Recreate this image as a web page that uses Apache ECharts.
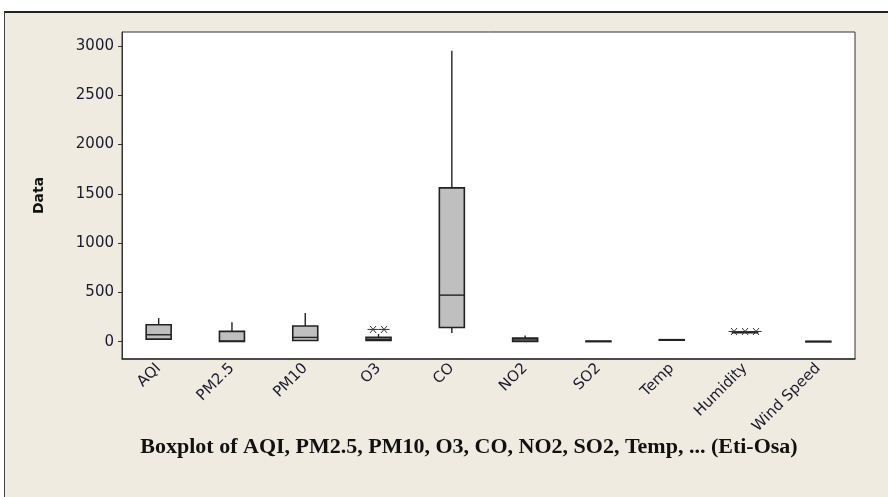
<!DOCTYPE html>
<html lang="en">

<head>
    <meta charset="UTF-8">
    <style>
        html, body {
            margin: 0;
            padding: 0;
            background: #fff;
        }
        #frame {
            position: absolute;
            left: 4px;
            top: 11px;
            width: 884px;
            height: 486px;
            background: #f0ebe1;
            border-top: 2px solid #222;
            border-left: 1px solid #444;
        }
        #main {
            position: absolute;
            left: 0;
            top: 0;
            width: 888px;
            height: 497px;
        }
    </style>
    <title>Boxplot</title>
</head>

<body>
    <div id="frame"></div>
    <div id="main"></div>

    <script src="https://cdn.jsdelivr.net/npm/echarts@6.0.0/dist/echarts.min.js"></script>
    <script>
        var categories = ['AQI', 'PM2.5', 'PM10', 'O3', 'CO', 'NO2', 'SO2', 'Temp', 'Humidity', 'Wind Speed'];
        // [lower whisker, Q1, median, Q3, upper whisker]
        var aqi = [27, 27, 71, 172, 240];
        var pm25 = [3, 3, 8, 105, 199];
        var pm10 = [13, 13, 44, 159, 291];
        var o3 = [10, 13, 25, 44, 78];
        var co = [88, 145, 473, 1561, 2952];
        var no2 = [0, 3, 18, 37, 64];
        var so2 = [2, 4, 5, 6, 8];
        var temp = [17, 18, 20, 21, 23];
        var humidity = [88, 92, 95, 98, 100];
        var windSpeed = [1, 2, 3, 4, 5];
        // outliers (asterisks): [category index, value]
        var outliers = [[3, 125], [3, 125], [8, 104], [8, 104], [8, 104]];
        var yTicks = [0, 500, 1000, 1500, 2000, 2500, 3000];

        var boxes = [aqi, pm25, pm10, o3, co, no2, so2, temp, humidity, windSpeed];
        var boxData = boxes.map(function (d, i) {
            return [i].concat(d);
        });

        // identical outliers are put side by side, like minitab does
        var outlierData = outliers.map(function (o, i) {
            var same = outliers.filter(function (p) { return p[0] === o[0] && p[1] === o[1]; });
            var k = outliers.slice(0, i).filter(function (p) { return p[0] === o[0] && p[1] === o[1]; }).length;
            return [o[0], o[1], k - (same.length - 1) / 2];
        });

        var boxWidth = 25;
        var ink = '#222';

        function renderBox(params, api) {
            var x = api.value(0);
            var lo = api.coord([x, api.value(1)]);
            var q1 = api.coord([x, api.value(2)]);
            var med = api.coord([x, api.value(3)]);
            var q3 = api.coord([x, api.value(4)]);
            var hi = api.coord([x, api.value(5)]);
            var half = boxWidth / 2;
            var ls = { stroke: ink, lineWidth: 1.4 };
            return {
                type: 'group',
                children: [
                    { type: 'line', shape: { x1: hi[0], y1: hi[1], x2: q3[0], y2: q3[1] }, style: ls },
                    { type: 'line', shape: { x1: q1[0], y1: q1[1], x2: lo[0], y2: lo[1] }, style: ls },
                    {
                        type: 'rect',
                        shape: { x: q3[0] - half, y: q3[1], width: boxWidth, height: Math.max(q1[1] - q3[1], 0.5) },
                        style: { fill: '#bfbfbf', stroke: ink, lineWidth: 1.6 }
                    },
                    { type: 'line', shape: { x1: med[0] - half, y1: med[1], x2: med[0] + half, y2: med[1] }, style: ls }
                ]
            };
        }

        function renderStar(params, api) {
            var p = api.coord([api.value(0), api.value(1)]);
            var cx = p[0] + api.value(2) * 11;
            var cy = p[1];
            var ls = { stroke: '#333', lineWidth: 1 };
            return {
                type: 'group',
                children: [
                    { type: 'line', shape: { x1: cx - 5.5, y1: cy, x2: cx + 5.5, y2: cy }, style: ls },
                    { type: 'line', shape: { x1: cx - 3, y1: cy - 3.5, x2: cx + 3, y2: cy + 3.5 }, style: ls },
                    { type: 'line', shape: { x1: cx - 3, y1: cy + 3.5, x2: cx + 3, y2: cy - 3.5 }, style: ls }
                ]
            };
        }

        var myChart = echarts.init(document.getElementById('main'));

        var option = {
            backgroundColor: 'transparent',
            animation: false,
            title: {
                text: 'Boxplot of AQI, PM2.5, PM10, O3, CO, NO2, SO2, Temp, ... (Eti-Osa)',
                left: 464,
                top: 431,
                textAlign: 'center',
                textStyle: {
                    fontFamily: 'Liberation Serif',
                    fontWeight: 'bold',
                    fontSize: 22,
                    color: '#111'
                }
            },
            grid: {
                left: 122,
                right: 33,
                top: 32,
                bottom: 138,
                show: true,
                backgroundColor: '#fff',
                borderColor: '#333',
                borderWidth: 1
            },
            xAxis: {
                type: 'category',
                data: categories,
                boundaryGap: true,
                axisLine: { onZero: false, lineStyle: { color: '#333', width: 1.5 } },
                axisTick: { alignWithLabel: true, length: 5, lineStyle: { color: '#333', width: 1.5 } },
                axisLabel: {
                    rotate: 45,
                    interval: 0,
                    margin: 7,
                    fontFamily: 'DejaVu Sans',
                    fontSize: 15,
                    color: '#1a1a2e'
                },
                splitLine: { show: false }
            },
            yAxis: {
                type: 'value',
                min: -175,
                max: 3142,
                name: 'Data',
                nameLocation: 'middle',
                nameGap: 76,
                nameTextStyle: {
                    fontFamily: 'DejaVu Sans',
                    fontWeight: 'bold',
                    fontSize: 14,
                    color: '#111'
                },
                axisLine: { show: true, lineStyle: { color: '#333', width: 1 } },
                axisTick: { show: true, length: 4, customValues: yTicks, lineStyle: { color: '#333' } },
                axisLabel: {
                    customValues: yTicks,
                    formatter: function (v) { return String(v); },
                    margin: 8,
                    fontFamily: 'DejaVu Sans',
                    fontSize: 15,
                    color: '#1a1a2e'
                },
                splitLine: { show: false }
            },
            series: [{
                    name: 'box',
                    type: 'custom',
                    renderItem: renderBox,
                    encode: { x: 0, y: [1, 2, 3, 4, 5] },
                    data: boxData,
                    z: 3
                },
                {
                    name: 'outlier',
                    type: 'custom',
                    renderItem: renderStar,
                    encode: { x: 0, y: 1 },
                    data: outlierData,
                    z: 4
                }
            ]
        };

        myChart.setOption(option);
    </script>
</body>

</html>
